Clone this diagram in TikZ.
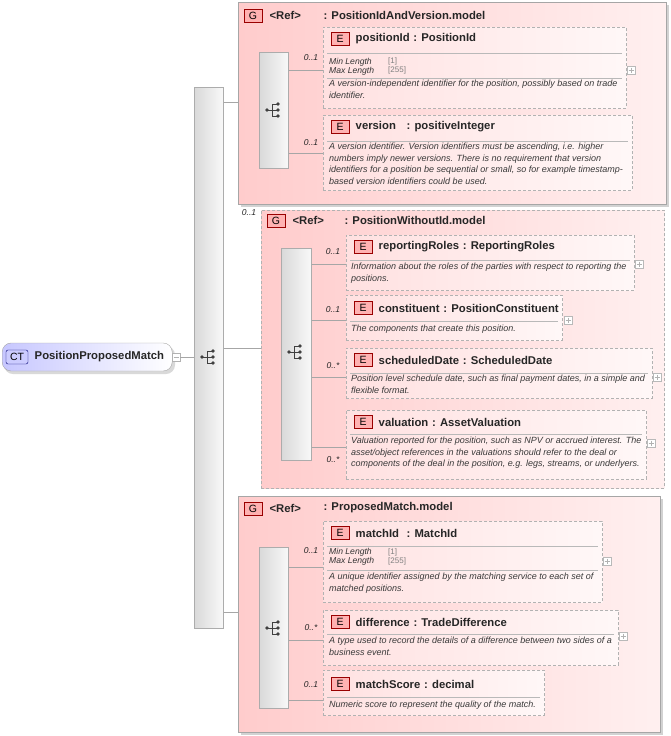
\documentclass[tikz,border=0pt]{standalone}
\usepackage{fontspec}
\setmainfont{Liberation Sans}
\usetikzlibrary{positioning,calc}

\tikzset{
  grp/.style={draw=gray!70, left color=red!20, right color=red!6, line width=0.8pt},
  grpopt/.style={grp, dash pattern=on 3pt off 2pt, draw=gray!60},
  elem/.style={draw=gray!60, dash pattern=on 3pt off 2pt, left color=red!12, right color=red!3, line width=0.6pt},
  seqbar/.style={draw=gray!65, left color=gray!30, right color=gray!5, line width=0.6pt},
  badge/.style={draw=red!60!black, fill=red!30, inner sep=1.5pt, minimum width=18pt, minimum height=13pt, font=\fontsize{10.5}{10.5}\selectfont},
  conn/.style={draw=gray!70, line width=0.5pt},
  card/.style={font=\itshape\fontsize{8.5}{9}\selectfont, text=gray!30!black},
  ttl/.style={font=\bfseries\fontsize{11.3}{12}\selectfont, anchor=west, text=black!85},
  dsc/.style={font=\itshape\fontsize{9}{11.6}\selectfont, text=gray!45!black, anchor=north west, align=left, inner sep=0pt},
  sep/.style={draw=gray!55, line width=0.5pt},
  plus/.style={draw=gray!55, fill=white, minimum size=8pt, inner sep=0pt}
}
\newcommand{\seqicon}[1]{%
  \fill[black!75] ($(#1)+(-6,0)$) circle (1.8);
  \draw[black!75, line width=0.8pt] ($(#1)+(-6,0)$) -- ($(#1)+(-1,0)$)
    ($(#1)+(-1,-6)$) -- ($(#1)+(-1,6)$)
    ($(#1)+(-1,-6)$) -- ($(#1)+(4,-6)$)
    ($(#1)+(-1,6)$) -- ($(#1)+(4,6)$)
    ($(#1)+(-1,0)$) -- ($(#1)+(4,0)$);
  \fill[black!75] ($(#1)+(5,-6)$) circle (1.8) ($(#1)+(5,0)$) circle (1.8) ($(#1)+(5,6)$) circle (1.8);}
\newcommand{\plusmark}[1]{\node[plus] at (#1) {}; \draw[gray!60] ($(#1)+(-2.5,0)$) -- ($(#1)+(2.5,0)$) ($(#1)+(0,-2.5)$) -- ($(#1)+(0,2.5)$);}

\begin{document}
\begin{tikzpicture}[x=1pt, y=-1pt]
\useasboundingbox (0,0) rectangle (671,736);

% complex type
\fill[gray!30, rounded corners=9pt] (4,346) rectangle (175,374);
\node[draw=gray!70, rounded corners=9pt, left color=blue!22, right color=white, minimum width=170pt, minimum height=28pt, anchor=west] (ct) at (2,357) {};
\node[draw=blue!45!black, fill=blue!20, rounded corners=2pt, minimum width=22pt, minimum height=14pt, inner sep=1pt, font=\fontsize{10.5}{10.5}\selectfont] (ctb) at (17,357) {CT};
\node[ttl, right=3pt of ctb] {PositionProposedMatch};
\node[draw=gray!60, fill=white, minimum size=8pt, inner sep=0pt] (ctm) at (176,357) {};
\draw[gray!60] (173.5,357) -- (178.5,357);

% main sequence
\node[seqbar, minimum width=29pt, minimum height=541pt, anchor=north west] (seq) at (194,87) {};
\seqicon{208,357}
\draw[conn] (ctm.east) -- (seq.west |- ctm);

% ---- group 1
\fill[gray!35] (241,5) rectangle (669,207);
\node[grp, minimum width=428pt, minimum height=202pt, anchor=north west] (g1) at (238,2) {};
\node[badge] (g1b) at (253,16) {G};
\node[ttl] at (266,15) {<Ref>};
\node[ttl] at (320,15) {: PositionIdAndVersion.model};
\draw[conn] (seq.east |- 0,102) -- (g1.west |- 0,102);
\node[seqbar, minimum width=29pt, minimum height=116pt, anchor=north west] (s1) at (259,52) {};
\seqicon{273,110}

\node[elem, minimum width=303pt, minimum height=81pt, anchor=north west] (pid) at (323,27) {};
\node[badge] (pidb) at (340,39) {E};
\node[ttl, right=3pt of pidb] {positionId\,\,: PositionId};
\draw[sep] (327,53) -- (622,53);
\node[dsc, font=\itshape\fontsize{8.6}{9}\selectfont, text=black!80] at (329,58) {Min Length\\Max Length};
\node[dsc, text=gray, font=\fontsize{8}{9}\selectfont] at (388,58) {{[1]}\\{[255]}};
\draw[sep] (327,78) -- (622,78);
\node[dsc] at (329,80) {A version-independent identifier for the position, possibly based on trade\\identifier.};
\plusmark{631,70}
\node[card] at (311,58) {0..1};
\draw[conn] (s1.east |- 0,70) -- (pid.west |- 0,70);

\node[elem, minimum width=309pt, minimum height=75pt, anchor=north west] (ver) at (323,115) {};
\node[badge] (verb) at (340,127) {E};
\node[ttl, right=3pt of verb] {version\enspace\ \,: positiveInteger};
\draw[sep] (327,141) -- (628,141);
\node[dsc] at (329,143) {A version identifier. Version identifiers must be ascending, i.e. higher\\numbers imply newer versions. There is no requirement that version\\identifiers for a position be sequential or small, so for example timestamp-\\based version identifiers could be used.};
\node[card] at (311,143) {0..1};
\draw[conn] (s1.east |- 0,153) -- (ver.west |- 0,153);

% ---- group 2
\node[grpopt, minimum width=403pt, minimum height=278pt, anchor=north west] (g2) at (261,210) {};
\node[card] at (249,213) {0..1};
\node[badge] (g2b) at (276,221) {G};
\node[ttl] at (289,220) {<Ref>};
\node[ttl] at (341,220) {: PositionWithoutId.model};
\draw[conn] (seq.east |- 0,348) -- (g2.west |- 0,348);
\node[seqbar, minimum width=30pt, minimum height=212pt, anchor=north west] (s2) at (281,248) {};
\seqicon{295,352}

\node[elem, minimum width=288pt, minimum height=55pt, anchor=north west] (rr) at (346,235) {};
\node[badge] (rrb) at (363,247) {E};
\node[ttl, right=3pt of rrb] {reportingRoles\,\,: ReportingRoles};
\draw[sep] (350,260) -- (630,260);
\node[dsc] at (351,263) {Information about the roles of the parties with respect to reporting the\\positions.};
\plusmark{639,264}
\node[card] at (333,252) {0..1};
\draw[conn] (s2.east |- 0,264) -- (rr.west |- 0,264);

\node[elem, minimum width=216pt, minimum height=45pt, anchor=north west] (cn) at (346,295) {};
\node[badge] (cnb) at (363,308) {E};
\node[ttl, right=3pt of cnb] {constituent\,\,: PositionConstituent};
\draw[sep] (350,321) -- (558,321);
\node[dsc] at (351,325) {The components that create this position.};
\plusmark{568,320}
\node[card] at (333,310) {0..1};
\draw[conn] (s2.east |- 0,320) -- (cn.west |- 0,320);

\node[elem, minimum width=306pt, minimum height=50pt, anchor=north west] (sd) at (346,348) {};
\node[badge] (sdb) at (363,360) {E};
\node[ttl, right=3pt of sdb] {scheduledDate\,\,: ScheduledDate};
\draw[sep] (350,373) -- (648,373);
\node[dsc] at (351,375) {Position level schedule date, such as final payment dates, in a simple and\\flexible format.};
\plusmark{657,377}
\node[card] at (333,366) {0..*};
\draw[conn] (s2.east |- 0,377) -- (sd.west |- 0,377);

\node[elem, minimum width=300pt, minimum height=69pt, anchor=north west] (va) at (346,410) {};
\node[badge] (vab) at (363,422) {E};
\node[ttl, right=3pt of vab] {valuation\,\,: AssetValuation};
\draw[sep] (350,434) -- (642,434);
\node[dsc] at (351,437) {Valuation reported for the position, such as NPV or accrued interest. The\\asset/object references in the valuations should refer to the deal or\\components of the deal in the position, e.g. legs, streams, or underlyers.};
\plusmark{651,443}
\node[card] at (333,460) {0..*};
\draw[conn] (s2.east |- 0,447) -- (va.west |- 0,447);

% ---- group 3
\fill[gray!35] (241,499) rectangle (663,735);
\node[grp, minimum width=422pt, minimum height=236pt, anchor=north west] (g3) at (238,496) {};
\node[badge] (g3b) at (253,509) {G};
\node[ttl] at (266,508) {<Ref>};
\node[ttl] at (320,508) {: ProposedMatch.model};
\draw[conn] (seq.east |- 0,612) -- (g3.west |- 0,612);
\node[seqbar, minimum width=29pt, minimum height=161pt, anchor=north west] (s3) at (259,547) {};
\seqicon{273,628}

\node[elem, minimum width=279pt, minimum height=81pt, anchor=north west] (mi) at (323,521) {};
\node[badge] (mib) at (340,533) {E};
\node[ttl, right=3pt of mib] {matchId\enspace\,: MatchId};
\draw[sep] (327,546) -- (598,546);
\node[dsc, font=\itshape\fontsize{8.6}{9}\selectfont, text=black!80] at (329,548) {Min Length\\Max Length};
\node[dsc, text=gray, font=\fontsize{8}{9}\selectfont] at (388,548) {{[1]}\\{[255]}};
\draw[sep] (327,570) -- (598,570);
\node[dsc] at (329,573) {A unique identifier assigned by the matching service to each set of\\matched positions.};
\plusmark{607,561}
\node[card] at (311,551) {0..1};
\draw[conn] (s3.east |- 0,567) -- (mi.west |- 0,567);

\node[elem, minimum width=295pt, minimum height=55pt, anchor=north west] (df) at (323,610) {};
\node[badge] (dfb) at (340,622) {E};
\node[ttl, right=3pt of dfb] {difference\,\,: TradeDifference};
\draw[sep] (327,634) -- (614,634);
\node[dsc] at (329,637) {A type used to record the details of a difference between two sides of a\\business event.};
\plusmark{623,636}
\node[card] at (311,628) {0..*};
\draw[conn] (s3.east |- 0,640) -- (df.west |- 0,640);

\node[elem, minimum width=221pt, minimum height=45pt, anchor=north west] (ms) at (323,670) {};
\node[badge] (msb) at (340,684) {E};
\node[ttl, right=3pt of msb] {matchScore\,\,: decimal};
\draw[sep] (327,697) -- (540,697);
\node[dsc] at (329,701) {Numeric score to represent the quality of the match.};
\node[card] at (311,685) {0..1};
\draw[conn] (s3.east |- 0,700) -- (ms.west |- 0,700);
\end{tikzpicture}
\end{document}
